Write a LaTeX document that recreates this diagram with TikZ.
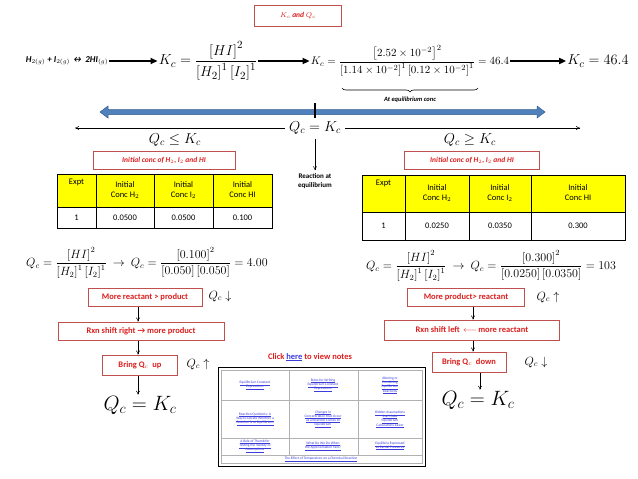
\documentclass[tikz,border=0pt]{standalone}
\usepackage{fontspec}
\setmainfont{Carlito}
\usepackage{amsmath}
\usetikzlibrary{arrows.meta,decorations.pathreplacing}
\definecolor{redb}{RGB}{192,80,77}
\definecolor{redt}{RGB}{220,30,30}
\definecolor{blu}{RGB}{79,129,189}
\definecolor{bludk}{RGB}{50,90,140}
\definecolor{yel}{RGB}{255,255,0}
\definecolor{lnk}{RGB}{60,60,220}
\tikzset{
 rbox/.style={draw=redb,line width=1pt,fill=white,text=redt,font=\bfseries\fontsize{8.5}{10}\selectfont,inner sep=3pt,minimum height=18pt},
 ibox/.style={rbox,font=\bfseries\itshape\fontsize{7.5}{9}\selectfont},
 eq/.style={inner sep=1pt},
 thin/.style={-{To[length=4pt,width=4pt]},line width=0.5pt},
 big/.style={-{Triangle[length=7pt,width=6pt]},line width=1.6pt},
 cell/.style={font=\fontsize{8.5}{10}\selectfont,align=center,inner sep=0pt},
 lk/.style={font=\fontsize{3.6}{4.2}\selectfont,text=lnk,align=center,inner sep=0pt}
}
\newcommand{\Qc}{Q_c}
\newcommand{\Kc}{K_c}
\begin{document}
\begin{tikzpicture}[x=1pt,y=-1pt]
\useasboundingbox (0,0) rectangle (638,479);
% title
\node[ibox,minimum width=87pt,minimum height=21pt] (title) at (298,16) {$K_c$ and $Q_c$};
% equation row
\node[eq,font=\bfseries\itshape\fontsize{9}{10}\selectfont] (rxn) at (67,61) {H$_{2(g)}$ + I$_{2(g)}$\,↔ 2HI$_{(g)}$};
\node[eq,font=\fontsize{15}{18}\selectfont] (kc1) at (208,61) {$\Kc=\dfrac{\left[HI\right]^2}{\left[H_2\right]^1\left[I_2\right]^1}$};
\node[eq,font=\fontsize{11}{13}\selectfont] (kc2) at (410,61) {$\Kc=\dfrac{\left[2.52\times10^{-2}\right]^2}{\left[1.14\times10^{-2}\right]^1\left[0.12\times10^{-2}\right]^1}=46.4$};
\node[eq,font=\fontsize{15}{18}\selectfont] (kc3) at (598,61) {$\Kc=46.4$};
\draw[big] (rxn.east) -- (kc1.west);
\draw[big] (kc1.east) -- (kc2.west);
\draw[big] (kc2.east) -- (kc3.west);
\coordinate (bl) at (342,88); \coordinate (br) at (478,88);
\draw[decorate,decoration={brace,mirror,amplitude=4pt},line width=0.6pt] (bl) -- (br);
\node[font=\bfseries\itshape\fontsize{6.5}{8}\selectfont] (eqc) at (410,100) {At equilibrium conc};
% blue arrow
\draw[draw=bludk,fill=blu,line width=0.5pt] (100,112) -- (108,106) -- (108,109.5) -- (537,109.5) -- (537,106) -- (545,112) -- (537,118) -- (537,114.5) -- (108,114.5) -- (108,118) -- cycle;
\draw[line width=1.5pt] (315,103) -- (315,121);
% Qc = Kc
\node[eq,font=\fontsize{14}{16}\selectfont,fill=white,inner sep=4pt] (qk) at (315,128) {$\Qc=\Kc$};
\coordinate (la) at (75,128); \coordinate (ra) at (580,128);
\draw[thin] (qk.west) -- (la);
\draw[thin] (qk.east) -- (ra);
\node[eq,font=\fontsize{14}{16}\selectfont] (ql) at (175,140) {$\Qc\le\Kc$};
\node[eq,font=\fontsize{14}{16}\selectfont] (qr) at (470,140) {$\Qc\ge\Kc$};
\node[font=\bfseries\fontsize{7}{8.5}\selectfont,align=center] (reqm) at (315,181) {Reaction at\\equilibrium};
\draw[thin] (qk.south) -- (reqm.north);
% initial conc boxes
\node[ibox,minimum width=142pt] (ic1) at (164,160) {Initial conc of H$_2$, I$_2$ and HI};
\node[ibox,minimum width=135pt] (ic2) at (472,160) {Initial conc of H$_2$, I$_2$ and HI};
% left table
\fill[yel] (57,174) rectangle (272,207);
\draw[line width=0.7pt] (57,174) rectangle (272,228);
\draw[line width=0.7pt] (57,207) -- (272,207);
\foreach \x in {96,154,213} \draw[line width=0.7pt] (\x,174) -- (\x,228);
\node[cell,anchor=north] (t1a) at (76.5,179) {Expt};
\node[cell] (t1b) at (125,190) {Initial\\Conc H$_2$};
\node[cell] (t1c) at (183.5,190) {Initial\\Conc I$_2$};
\node[cell] (t1d) at (242.5,190) {Initial\\Conc HI};
\node[cell] (t1e) at (76.5,217.5) {1};
\node[cell] (t1f) at (125,217.5) {0.0500};
\node[cell] (t1g) at (183.5,217.5) {0.0500};
\node[cell] (t1h) at (242.5,217.5) {0.100};
% right table
\fill[yel] (362,175) rectangle (625,212);
\draw[line width=0.7pt] (362,175) rectangle (625,240);
\draw[line width=0.7pt] (362,212) -- (625,212);
\foreach \x in {405,469,531} \draw[line width=0.7pt] (\x,175) -- (\x,240);
\node[cell,anchor=north] (t2a) at (383.5,180) {Expt};
\node[cell] (t2b) at (437,193) {Initial\\Conc H$_2$};
\node[cell] (t2c) at (500,193) {Initial\\Conc I$_2$};
\node[cell] (t2d) at (578,193) {Initial\\Conc HI};
\node[cell] (t2e) at (383.5,226) {1};
\node[cell] (t2f) at (437,226) {0.0250};
\node[cell] (t2g) at (500,226) {0.0350};
\node[cell] (t2h) at (578,226) {0.300};
% Qc formulas
\node[eq,font=\fontsize{11.5}{13}\selectfont] (qf1) at (147,263) {$\Qc=\dfrac{\left[HI\right]^2}{\left[H_2\right]^1\left[I_2\right]^1}\ \rightarrow\ \Qc=\dfrac{\left[0.100\right]^2}{\left[0.050\right]\left[0.050\right]}=4.00$};
\node[eq,font=\fontsize{11.5}{13}\selectfont] (qf2) at (491,266) {$\Qc=\dfrac{\left[HI\right]^2}{\left[H_2\right]^1\left[I_2\right]^1}\ \rightarrow\ \Qc=\dfrac{\left[0.300\right]^2}{\left[0.0250\right]\left[0.0350\right]}=103$};
% left chain
\node[rbox,minimum width=114pt] (l1) at (145,297) {More reactant > product};
\node[eq,font=\fontsize{12}{14}\selectfont] (l1q) at (220,296) {$\Qc\downarrow$};
\node[rbox,minimum width=166pt] (l2) at (141,331) {Rxn shift right → more product};
\node[rbox,minimum width=75pt,minimum height=20pt] (l3) at (140,365) {Bring Q$_c$ \ up};
\node[eq,font=\fontsize{12}{14}\selectfont] (l3q) at (198,364) {$\Qc\uparrow$};
\node[eq,font=\fontsize{21}{24}\selectfont] (l4) at (140,405) {$\Qc=\Kc$};
\draw[thin] (138,306.5) -- (l2.north-|138,0);
\draw[thin] (l2.south-|138,0) -- (l3.north-|138,0);
\draw[thin] (l3.south-|138,0) -- (l4.north-|138,0);
% right chain
\node[rbox,minimum width=117pt] (r1) at (466,297) {More product> reactant};
\node[eq,font=\fontsize{12}{14}\selectfont] (r1q) at (548,297) {$\Qc\uparrow$};
\node[rbox,minimum width=175pt,minimum height=20pt] (r2) at (472,330) {Rxn shift left \,$\longleftarrow$\,more reactant};
\node[rbox,minimum width=74pt,minimum height=20pt] (r3) at (469,362) {Bring Q$_c$ \ down};
\node[eq,font=\fontsize{12}{14}\selectfont] (r3q) at (536,362) {$\Qc\downarrow$};
\node[eq,font=\fontsize{21}{24}\selectfont] (r4) at (478,400) {$\Qc=\Kc$};
\draw[thin] (473,306.5) -- (r2.north-|473,0);
\draw[thin] (r2.south-|473,0) -- (r3.north-|473,0);
\draw[thin] (r3.south-|480,0) -- (r4.north-|480,0);
% notes
\node[font=\bfseries\fontsize{8.5}{10}\selectfont,text=redt] (click) at (310,357) {Click \textcolor{lnk}{\underline{here}} to view notes};
\draw[line width=1pt] (218,367) rectangle (425,466);
\draw[gray!60,line width=0.5pt] (221,370) rectangle (422,463);
\foreach \y in {400,438,455} \draw[gray!60,line width=0.5pt] (221,\y) -- (422,\y);
\foreach \x in {289,358} \draw[gray!60,line width=0.5pt] (\x,370) -- (\x,455);
\node[lk] (n1) at (255,385) {\underline{Equilibrium Constant}\\\underline{Expressions}};
\node[lk] (n2) at (323,385) {\underline{Rules for Writing}\\\underline{Equilibrium Constant}\\\underline{Expressions}};
\node[lk] (n3) at (390,385) {\underline{Altering or}\\\underline{Combining}\\\underline{Equilibrium}\\\underline{Reactions}};
\node[lk] (n4) at (255,419) {\underline{Reaction Quotients: A}\\\underline{Way to Decide Whether a}\\\underline{Reaction is at Equilibrium}};
\node[lk] (n5) at (323,419) {\underline{Changes in}\\\underline{Concentration that Occur}\\\underline{as a Reaction Comes to}\\\underline{Equilibrium}};
\node[lk] (n6) at (390,419) {\underline{Hidden Assumptions}\\\underline{that Make}\\\underline{Equilibrium}\\\underline{Calculations Easier}};
\node[lk] (n7) at (255,446) {\underline{A Rule of Thumb for}\\\underline{Testing the Validity of}\\\underline{Assumptions}};
\node[lk] (n8) at (323,446) {\underline{What Do We Do When}\\\underline{the Approximation Fails?}};
\node[lk] (n9) at (390,446) {\underline{Equilibria Expressed}\\\underline{as Partial Pressures}};
\node[lk] (n10) at (321,459) {\underline{The Effect of Temperature on a Chemical Reaction}};
\end{tikzpicture}
\end{document}
